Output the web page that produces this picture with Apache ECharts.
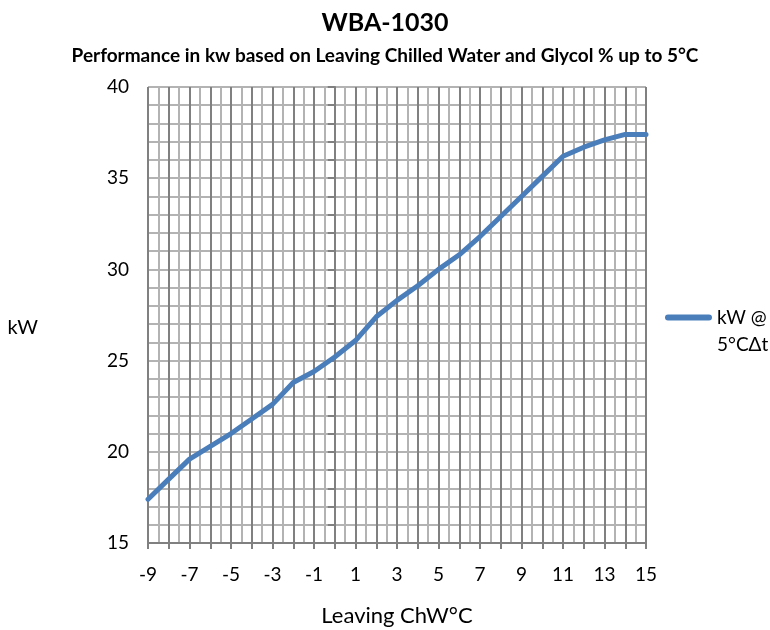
<!DOCTYPE html>
<html>
<head>
<meta charset="utf-8">
<script src="https://cdn.jsdelivr.net/npm/echarts@6/dist/echarts.min.js"></script>
<style>
  html, body { margin: 0; padding: 0; background: #fff; }
  #chart { width: 770px; height: 630px; }
</style>
</head>
<body>
<div id="chart"></div>
<script>
// Leaving chilled water temperature (°C)
const temps = [-9, -8, -7, -6, -5, -4, -3, -2, -1, 0, 1, 2, 3, 4, 5, 6, 7, 8, 9, 10, 11, 12, 13, 14, 15]
// kW @ 5°C delta t
const kw = [17.4, 18.5, 19.6, 20.3, 21.0, 21.8, 22.6, 23.8, 24.4, 25.2, 26.1, 27.4, 28.3, 29.1, 30.0, 30.8, 31.8, 32.9, 34.0, 35.1, 36.2, 36.7, 37.1, 37.4, 37.4]
const seriesName = 'kW @ 5°CΔt'

const font = 'Lato, "Noto Sans", sans-serif'
const dark = '#808080'
const light = '#b3b3b3'

// legend icon: short rounded bar sitting level with the first text line
const legendIcon = 'path://M3,10.5 H44 A3,3 0 0 1 44,16.5 H3 A3,3 0 0 1 3,10.5 Z M0,0 L0.01,0 L0,0.01 Z M47,54 L46.99,54 L47,53.99 Z'

const chart = echarts.init(document.getElementById('chart'))
const option = {
  backgroundColor: '#fff',
  animation: false,
  title: [
    {
      text: 'WBA-1030',
      left: 'center',
      top: 5,
      textStyle: { fontFamily: font, fontSize: 25, fontWeight: 'bold', color: '#000' }
    },
    {
      text: 'Performance in kw based on Leaving Chilled Water and Glycol % up to 5°C',
      left: 'center',
      top: 41,
      textStyle: { fontFamily: font, fontSize: 19, fontWeight: 'bold', color: '#000' }
    }
  ],
  legend: {
    left: 660,
    top: 299,
    orient: 'vertical',
    icon: legendIcon,
    itemWidth: 47,
    itemHeight: 54,
    itemGap: 0,
    formatter: () => 'kW @\n5°CΔt',
    textStyle: { fontFamily: font, fontSize: 19, color: '#000', lineHeight: 27 },
    data: [seriesName]
  },
  grid: { left: 148, right: 124, top: 87, bottom: 87, outerBoundsMode: 'none' },
  xAxis: {
    type: 'value',
    min: -9,
    max: 15,
    interval: 1,
    name: 'Leaving ChW°C',
    nameLocation: 'middle',
    nameGap: 62,
    nameTextStyle: { fontFamily: font, fontSize: 22, color: '#000' },
    axisLine: { show: true, onZero: false, lineStyle: { color: dark, width: 2 } },
    axisTick: { show: true, length: 6, lineStyle: { color: dark, width: 2 } },
    axisLabel: {
      margin: 22,
      fontFamily: font,
      fontSize: 19,
      color: '#000',
      formatter: v => (Math.abs(v) % 2 === 1 ? String(v) : '')
    },
    splitLine: { show: true, lineStyle: { color: dark, width: 2 } },
    minorTick: { show: false, splitNumber: 2 },
    minorSplitLine: { show: true, lineStyle: { color: light, width: 2 } }
  },
  yAxis: {
    type: 'value',
    min: 15,
    max: 40,
    interval: 5,
    name: '\nkW',
    nameLocation: 'middle',
    nameRotate: 0,
    nameGap: 110,
    nameTextStyle: { fontFamily: font, fontSize: 20, color: '#000', lineHeight: 26 },
    axisLine: { show: true, lineStyle: { color: dark, width: 2 } },
    axisTick: { show: true, length: 7, lineStyle: { color: dark, width: 2 } },
    minorTick: { show: true, splitNumber: 5, length: 7, lineStyle: { color: dark, width: 2 } },
    axisLabel: { margin: 19, fontFamily: font, fontSize: 19, color: '#000' },
    splitLine: { show: true, lineStyle: { color: light, width: 2 } },
    minorSplitLine: { show: true, lineStyle: { color: light, width: 2 } }
  },
  series: [
    {
      name: seriesName,
      type: 'line',
      data: temps.map((t, i) => [t, kw[i]]),
      showSymbol: false,
      symbol: 'none',
      color: '#4a7ebb',
      lineStyle: { color: '#4a7ebb', width: 5, cap: 'round', join: 'round' }
    }
  ]
}
option && chart.setOption(option)
</script>
</body>
</html>
